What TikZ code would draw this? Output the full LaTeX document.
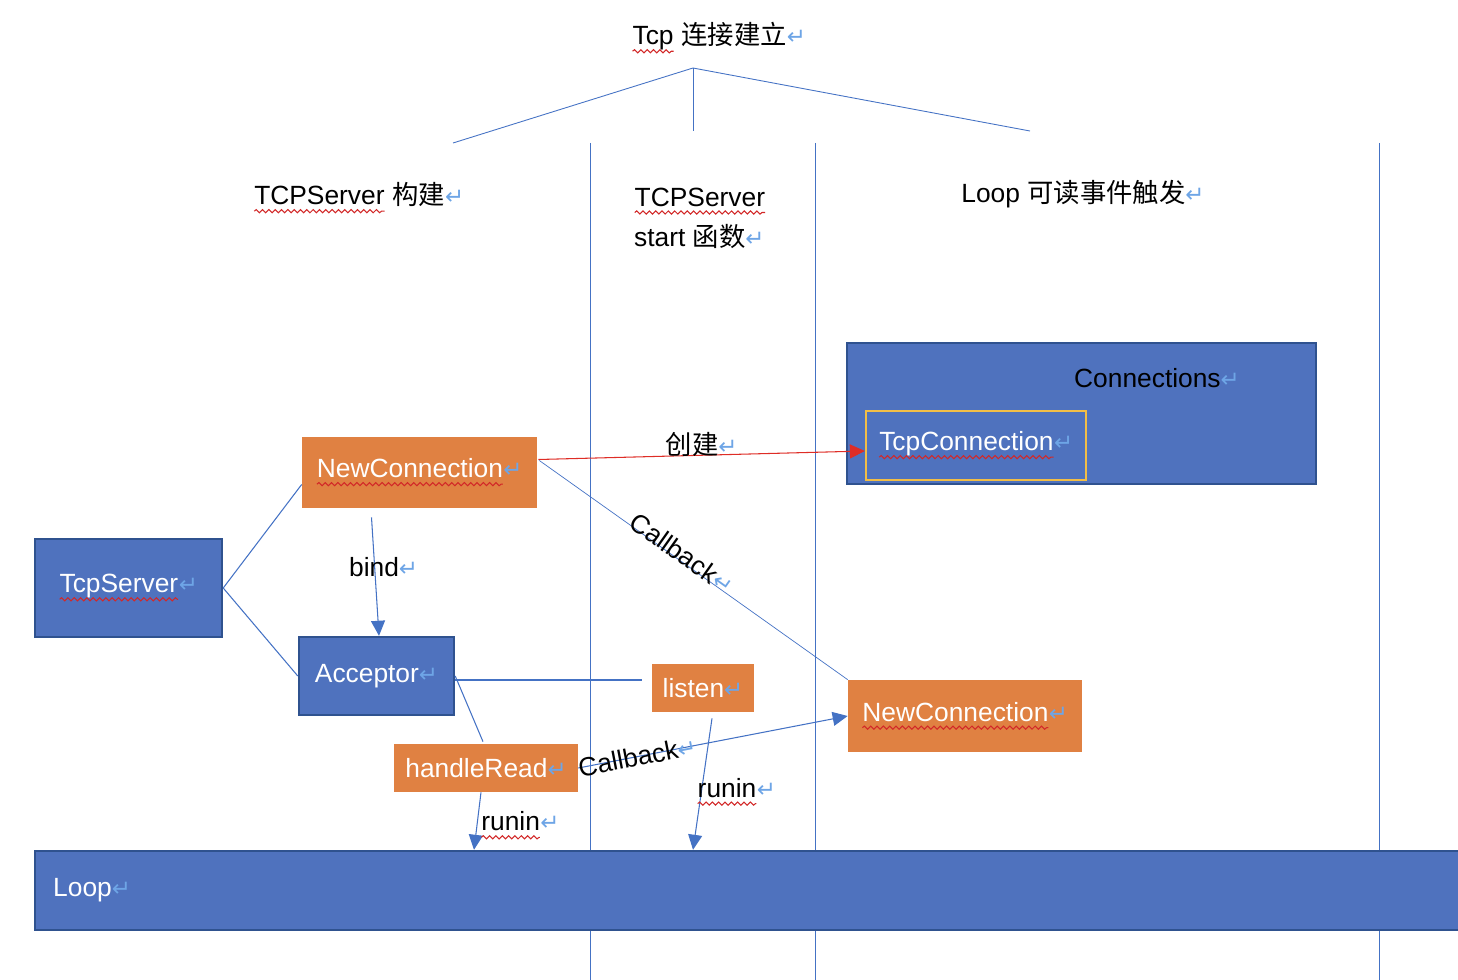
\documentclass[tikz,border=0pt]{standalone}
\usepackage{fontspec}
\setmainfont{Liberation Sans}
\newfontfamily\cjk{Noto Sans CJK SC}
\newfontfamily\symf{DejaVu Sans}
\usepackage{tikz}
\usetikzlibrary{arrows.meta, positioning, calc, decorations.pathmorphing}
\usepackage{xcolor}
\definecolor{boxblue}{RGB}{79, 114, 190}
\definecolor{edgeblue}{RGB}{47, 82, 143}
\definecolor{lineblue}{RGB}{68, 114, 196}
\definecolor{boxorange}{RGB}{224, 129, 66}
\definecolor{makered}{RGB}{222, 45, 38}
\definecolor{connyellow}{RGB}{242, 190, 70}
\definecolor{retblue}{RGB}{110, 165, 230}
\definecolor{spellred}{RGB}{210, 40, 40}

\newcommand\retmark{{\fontsize{13}{13}\symf\color{retblue}\char"21B5}}
% wavy spell-check underline
\newcommand\spell[1]{\tikz[baseline=(sw.base)]{%
  \node[inner sep=0pt, outer sep=0pt, minimum width=0pt, minimum height=0pt,
        draw=none, fill=none, anchor=center] (sw) {#1};
  \draw[spellred, line width=0.6pt, -, decorate,
        decoration={snake, amplitude=0.9pt, segment length=3.6pt}]
    ([yshift=-3.6pt]sw.base west) -- ([yshift=-3.6pt]sw.base east);}}

\begin{document}
\begin{tikzpicture}[
    x=0.02cm, y=-0.02cm,
    font=\fontsize{15}{22.7}\selectfont,
    bluebox/.style={draw=edgeblue, fill=boxblue, line width=1.4pt,
                    text=white, inner sep=0pt},
    orangebox/.style={fill=boxorange, text=white, inner sep=0pt},
    link/.style={lineblue, line width=0.6pt},
    arr/.style={link, -{Triangle[length=0.3cm, width=0.28cm]}},
    lane/.style={lineblue, line width=0.5pt},
    lbl/.style={text=black},
  ]
  \useasboundingbox (0,0) rectangle (1458,980);

  % title and its three legs
  \node (title) at (719,38) {\spell{Tcp} \cjk 连接建立\retmark};
  \coordinate (root) at (693,68);
  \coordinate (legl) at (453,143);
  \coordinate (legm) at (693,131);
  \coordinate (legr) at (1030,131);
  \foreach \leg in {legl,legm,legr}
    \draw[link, line width=0.5pt] (root) -- (\leg);

  % lanes
  \foreach \x in {590,815,1379}
    \draw[lane] (\x,143) -- (\x,980);

  \node (hbuild) at (359,198) {\spell{TCPServer} \cjk 构建\retmark};
  \node[align=left, anchor=west] (hstart) at (628,218)
    {\spell{TCPServer}\\start \cjk 函数\retmark};
  \node (hloop) at (1083,194) {Loop \cjk 可读事件触发\retmark};

  % connections
  \node[bluebox, minimum width=9.38cm, minimum height=2.82cm] (conns)
    at (1081.5,413.5) {};
  \node (connlabel) at (1157,378) {Connections\retmark};
  \node[bluebox, draw=connyellow, line width=1.3pt,
        minimum width=4.4cm, minimum height=1.38cm] (tcpconn) at (976,445.5)
    {\spell{TcpConnection}\retmark};

  \node[orangebox, minimum width=4.7cm, minimum height=1.42cm] (newconn)
    at (419.5,472.5) {\spell{NewConnection}\retmark};
  \node[bluebox, minimum width=3.74cm, minimum height=1.96cm] (server)
    at (128.5,588) {\spell{TcpServer}\retmark};
  \node[bluebox, minimum width=3.1cm, minimum height=1.56cm] (acceptor)
    at (376.5,676) {Acceptor\retmark};
  \node[orangebox, minimum width=2.04cm, minimum height=0.96cm] (listen)
    at (703,688) {listen\retmark};
  \node[orangebox, minimum width=3.68cm, minimum height=0.96cm] (handle)
    at (486,768) {handleRead\retmark};
  \node[orangebox, minimum width=4.68cm, minimum height=1.44cm] (newconnr)
    at (965,716) {\spell{NewConnection}\retmark};

  \node[bluebox, minimum width=28.8cm, minimum height=1.58cm] (loop)
    at (755,890.5) {};
  \node[text=white, anchor=west] (looplabel) at (47,890) {Loop\retmark};

  \draw[link] (server.east) -- ([yshift=-0.24cm]newconn.west);
  \draw[link] (server.east) -- (acceptor.west);
  \draw[arr] ($(newconn.south)+(-48,9)$) -- ($(acceptor.north)+(2.5,0)$)
    node[lbl, pos=0.42, xshift=0.18cm] {bind\retmark};

  \draw[makered, line width=0.6pt, -{Triangle[length=0.3cm, width=0.28cm]}]
    ($(newconn.east)+(1,-13)$) -- ($(tcpconn.west)+(0,5.5)$)
    node[lbl, midway, yshift=0.22cm] {\cjk 创建\retmark};
  \draw[link, line width=0.4pt] ($(newconn.east)+(2,-12)$) -- (newconnr.north west)
    node[lbl, pos=0.45, sloped, above=-5pt] {Callback\retmark};

  \draw[link] ($(acceptor.east)+(0,4)$) -- ($(acceptor.east -| listen.west)+(-10,4)$);
  \draw[link] (acceptor.east) -- ($(handle.north)+(-3,-2)$);
  \draw[arr] (handle.east) -- (newconnr.west)
    node[lbl, pos=0.22, sloped] {Callback\retmark};

  \draw[arr] ($(handle.south)+(-5,0)$) -- ($(handle.south |- loop.north)+(-12,0)$)
    node[lbl, pos=0.58, anchor=west, inner sep=2pt] {\spell{runin}\retmark};
  \draw[arr] ($(listen.south)+(9,6)$) -- ($(listen.south |- loop.north)+(-10,0)$)
    node[lbl, pos=0.56, anchor=west, xshift=-0.09cm, inner sep=0pt] {\spell{runin}\retmark};
\end{tikzpicture}
\end{document}
